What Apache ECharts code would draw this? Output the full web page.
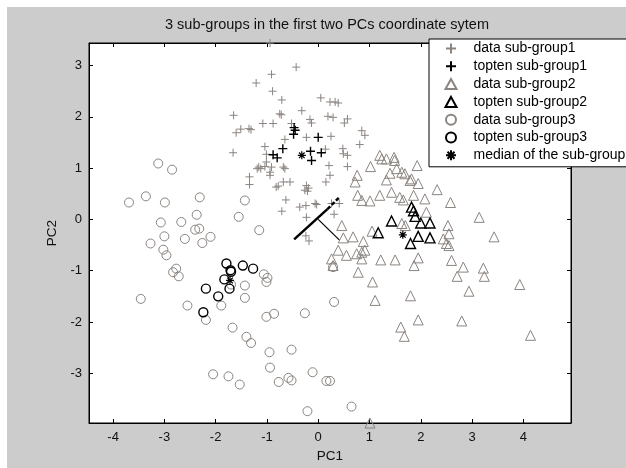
<!DOCTYPE html>
<html>
<head>
<meta charset="utf-8">
<script src="https://cdn.jsdelivr.net/npm/echarts@6/dist/echarts.min.js"></script>
<style>
html,body{margin:0;padding:0;background:#fff;}
#c{width:626px;height:468px;}
</style>
</head>
<body>
<div id="c"></div>
<script>
var titleText = '3 sub-groups in the first two PCs coordinate sytem';
var legendNames = ['data sub-group1','topten sub-group1','data sub-group2','topten sub-group2','data sub-group3','topten sub-group3','median of the sub-group'];
var xTicks = [-4,-3,-2,-1,0,1,2,3,4];
var yTicks = [-3,-2,-1,0,1,2,3];

var data1 = [[-0.94,3.44],[-0.43,2.97],[-0.91,2.83],[-1.21,2.66],[-0.89,2.50],[-0.71,2.33],[0.05,2.37],[0.23,2.29],[0.33,2.29],[0.39,2.27],
[-0.32,2.12],[-0.75,2.06],[-0.72,2.04],[-0.16,1.95],[0.19,2.01],[0.29,1.99],[0.57,1.96],[0.51,1.88],[-0.13,1.88],[-1.65,2.03],
[-1.60,1.69],[-1.51,1.76],[-1.35,1.77],[-1.31,1.75],[-1.66,1.30],[-1.34,0.83],[-1.34,0.68],[-1.08,1.87],[-0.88,1.87],[-0.52,1.87],
[-0.23,1.60],[0.25,1.62],[-0.65,1.56],[0.85,1.73],[0.91,1.64],[0.81,1.46],[-1.04,1.42],[0.48,1.38],[0.57,1.25],[-1.01,1.27],
[-1.19,0.99],[-1.04,1.03],[-0.94,0.92],[-0.91,1.02],[-0.68,1.02],[-0.65,0.99],[-0.94,0.86],[0.21,1.05],[0.57,1.03],[0.23,0.86],
[0.15,0.73],[-0.23,0.66],[-0.26,0.57],[-0.68,0.73],[-0.82,0.63],[-0.55,0.73],[-1.01,1.12],[-0.78,0.65],[-0.63,0.38],[-0.71,0.16],
[-0.36,0.24],[-0.24,0.27],[-0.06,0.31],[-0.03,0.29],[0.26,0.31],[0.41,0.31],[0.31,0.10],[-0.23,0.04],[-0.24,-0.32],[-0.18,-0.42],
[-0.21,0.55],[-0.19,0.61],[-1.16,1.02],[-1.12,0.99],[0.49,1.28],[0.14,1.37]];
var top1 = [[-0.47,1.79],[-0.45,1.74],[-0.48,1.66],[0.00,1.60],[-0.69,1.38],[-0.88,1.26],[-0.80,1.20],[-0.15,1.33],[0.06,1.30],[-0.13,1.15]];

var data2 = [[1.20,1.25],[1.24,1.18],[1.33,1.18],[1.48,1.21],[1.49,1.15],[1.02,1.03],[1.93,1.05],[0.76,0.86],[0.72,0.73],[1.33,0.77],
[1.40,0.90],[1.53,0.99],[1.63,0.92],[1.69,0.89],[1.79,0.76],[1.95,0.70],[0.77,0.47],[0.85,0.37],[1.01,0.36],[1.20,0.47],
[1.43,0.53],[1.59,0.43],[1.66,0.38],[1.86,0.47],[2.32,0.58],[2.08,0.40],[2.58,0.33],[2.11,0.14],[3.14,0.04],[0.46,-0.12],
[0.49,-0.36],[0.68,-0.34],[0.88,-0.43],[1.05,-0.23],[1.63,-0.08],[1.70,-0.12],[2.53,-0.12],[2.55,-0.28],[2.44,-0.38],[2.50,-0.47],
[2.55,-0.51],[3.43,-0.34],[0.39,-0.60],[0.55,-0.70],[0.75,-0.67],[0.85,-0.64],[0.91,-0.60],[0.26,-0.77],[0.29,-0.90],[0.85,-0.77],
[0.78,-1.03],[1.22,-0.79],[1.50,-0.79],[1.95,-0.75],[1.87,-0.90],[2.60,-0.80],[2.83,-0.93],[2.71,-1.11],[3.22,-0.95],[3.24,-1.11],
[1.06,-1.22],[1.11,-1.58],[1.80,-1.49],[2.94,-1.40],[3.93,-1.27],[1.95,-1.96],[2.80,-1.98],[1.61,-2.10],[1.68,-2.28],[4.14,-2.26],
[1.01,-3.97],[1.82,0.79]];
var top2 = [[1.82,0.24],[1.86,0.17],[1.89,0.06],[2.00,-0.07],[2.18,-0.07],[1.43,-0.03],[1.17,-0.26],[1.95,-0.33],[2.18,-0.36],[1.80,-0.47]];

var data3 = [[-3.12,1.09],[-2.85,0.97],[-3.69,0.33],[-3.36,0.45],[-2.99,0.33],[-2.31,0.43],[-1.43,0.37],[-2.37,0.09],[-1.55,0.05],[-3.07,-0.06],
[-2.67,-0.05],[-1.15,-0.21],[-3.00,-0.33],[-3.27,-0.47],[-2.60,-0.38],[-2.40,-0.20],[-2.32,-0.18],[-2.26,-0.46],[-2.10,-0.34],[-3.02,-0.59],
[-2.96,-0.70],[-2.77,-0.96],[-2.83,-1.03],[-2.72,-1.11],[-3.46,-1.55],[-2.55,-1.68],[-1.89,-1.68],[-2.19,-1.96],[-1.67,-2.11],[-1.43,-1.29],
[-1.43,-1.53],[-1.06,-1.07],[-0.99,-1.14],[-1.01,-1.22],[-1.01,-1.90],[-0.86,-1.84],[-1.40,-2.29],[-1.31,-2.41],[-0.95,-2.59],[-0.94,-2.89],
[-0.52,-2.54],[-0.26,-1.83],[-2.05,-3.02],[-1.75,-3.06],[-1.53,-3.22],[-0.77,-3.17],[-0.58,-3.09],[-0.52,-3.14],[-0.11,-2.98],[-0.21,-3.74],
[0.16,-3.15],[0.23,-3.15],[0.65,-3.65],[0.29,-0.93],[0.31,-1.61],[-1.70,-1.27]];
var top3 = [[-1.79,-0.86],[-1.71,-0.99],[-1.70,-1.02],[-1.47,-0.90],[-1.27,-0.96],[-1.83,-1.17],[-1.73,-1.35],[-2.19,-1.35],[-1.95,-1.50],[-2.24,-1.81]];

var medians = [[-0.32,1.25],[1.65,-0.30],[-1.72,-1.19]];
var axisSolid = [[-0.47,-0.39],[0.18,0.20]];
var axisDashed = [[0.18,0.20],[0.40,0.42]];
var axisThin = [[0.0,0.0],[0.41,-0.40]];

var xRange = [-4.47, 4.93];
var yRange = [-3.97, 3.44];

var GRAY = '#8b847f';
var BLACK = '#000000';
var PLUS = 'path://M5,0L5,10M0,5L10,5';
var STAR = 'path://M5,0L5,10M0,5L10,5M1.5,1.5L8.5,8.5M8.5,1.5L1.5,8.5';
var FONT = 'Liberation Sans';

function sc(name, data, symbol, size, color, bw) {
  return {
    type: 'scatter', name: name, data: data, symbol: symbol, symbolSize: size, symbolKeepAspect: true,
    xAxisIndex: 0, yAxisIndex: 0,
    itemStyle: { color: 'none', borderColor: color, borderWidth: bw, opacity: 1 },
    emphasis: { disabled: true }, animation: false
  };
}
function ln(data, width, type) {
  return {
    type: 'line', data: data, symbol: 'none', xAxisIndex: 0, yAxisIndex: 0,
    lineStyle: { color: BLACK, width: width, type: type }, silent: true, animation: false, z: 5
  };
}

var chart = echarts.init(document.getElementById('c'), null, { renderer: 'canvas' });
var axisCommon = {
  type: 'value',
  axisLine: { show: true, onZero: false, lineStyle: { color: '#000', width: 1 } },
  axisTick: { show: true, inside: true, length: 4, lineStyle: { color: '#000', width: 1 } },
  splitLine: { show: false }
};
chart.setOption({
  backgroundColor: '#ffffff',
  animation: false,
  graphic: [{ type: 'rect', left: 7, top: 7, shape: { width: 619, height: 461 }, style: { fill: '#cccccc' }, z: -10, silent: true }],
  title: {
    text: titleText, left: 327, top: 17, textAlign: 'center', padding: 0,
    textStyle: { fontFamily: FONT, fontSize: 14.5, fontWeight: 'normal', color: '#111' }
  },
  grid: { left: 89, top: 43, width: 482, height: 380, show: true, backgroundColor: '#ffffff', borderColor: '#000', borderWidth: 1 },
  legend: {
    data: legendNames, orient: 'vertical', left: 429, top: 39,
    backgroundColor: '#ffffff', borderColor: '#000', borderWidth: 1, borderRadius: 0,
    padding: [2, 80, 4, 14], itemWidth: 11, itemHeight: 10, itemGap: 2.8,
    formatter: function (n) { return '{t|' + n + '}'; },
    textStyle: { fontFamily: FONT, fontSize: 14, color: '#000', lineHeight: 15,
      rich: { t: { fontFamily: FONT, fontSize: 14, color: '#000', lineHeight: 15, padding: [0, 0, 0, 12] } } },
    selectedMode: false
  },
  xAxis: [
    Object.assign({}, axisCommon, {
      min: xRange[0], max: xRange[1], position: 'bottom',
      axisTick: Object.assign({}, axisCommon.axisTick, { customValues: xTicks }),
      axisLabel: { customValues: xTicks, margin: 8, fontFamily: FONT, fontSize: 13, color: '#111' },
      name: 'PC1', nameLocation: 'middle', nameGap: 23,
      nameTextStyle: { fontFamily: FONT, fontSize: 13.5, color: '#111' }
    }),
    Object.assign({}, axisCommon, {
      min: xRange[0], max: xRange[1], position: 'top',
      axisTick: Object.assign({}, axisCommon.axisTick, { customValues: xTicks }),
      axisLabel: { show: false }
    })
  ],
  yAxis: [
    Object.assign({}, axisCommon, {
      min: yRange[0], max: yRange[1], position: 'left',
      axisTick: Object.assign({}, axisCommon.axisTick, { customValues: yTicks }),
      axisLabel: { customValues: yTicks, margin: 7, fontFamily: FONT, fontSize: 13, color: '#111' },
      name: 'PC2', nameLocation: 'middle', nameGap: 28, nameRotate: 90,
      nameTextStyle: { fontFamily: FONT, fontSize: 13.5, color: '#111' }
    }),
    Object.assign({}, axisCommon, {
      min: yRange[0], max: yRange[1], position: 'right',
      axisTick: Object.assign({}, axisCommon.axisTick, { customValues: yTicks }),
      axisLabel: { show: false }
    })
  ],
  series: [
    sc(legendNames[0], data1, PLUS, 8, GRAY, 1),
    sc(legendNames[1], top1, PLUS, 9, BLACK, 1.4),
    sc(legendNames[2], data2, 'triangle', 10, GRAY, 1),
    sc(legendNames[3], top2, 'triangle', 10, BLACK, 1.4),
    sc(legendNames[4], data3, 'circle', 9, GRAY, 1),
    sc(legendNames[5], top3, 'circle', 9, BLACK, 1.4),
    sc(legendNames[6], medians, STAR, 8, BLACK, 1.2),
    ln(axisSolid, 2.5, 'solid'),
    ln(axisDashed, 2.5, [4, 2]),
    ln(axisThin, 1.2, 'solid')
  ]
});
</script>
</body>
</html>
